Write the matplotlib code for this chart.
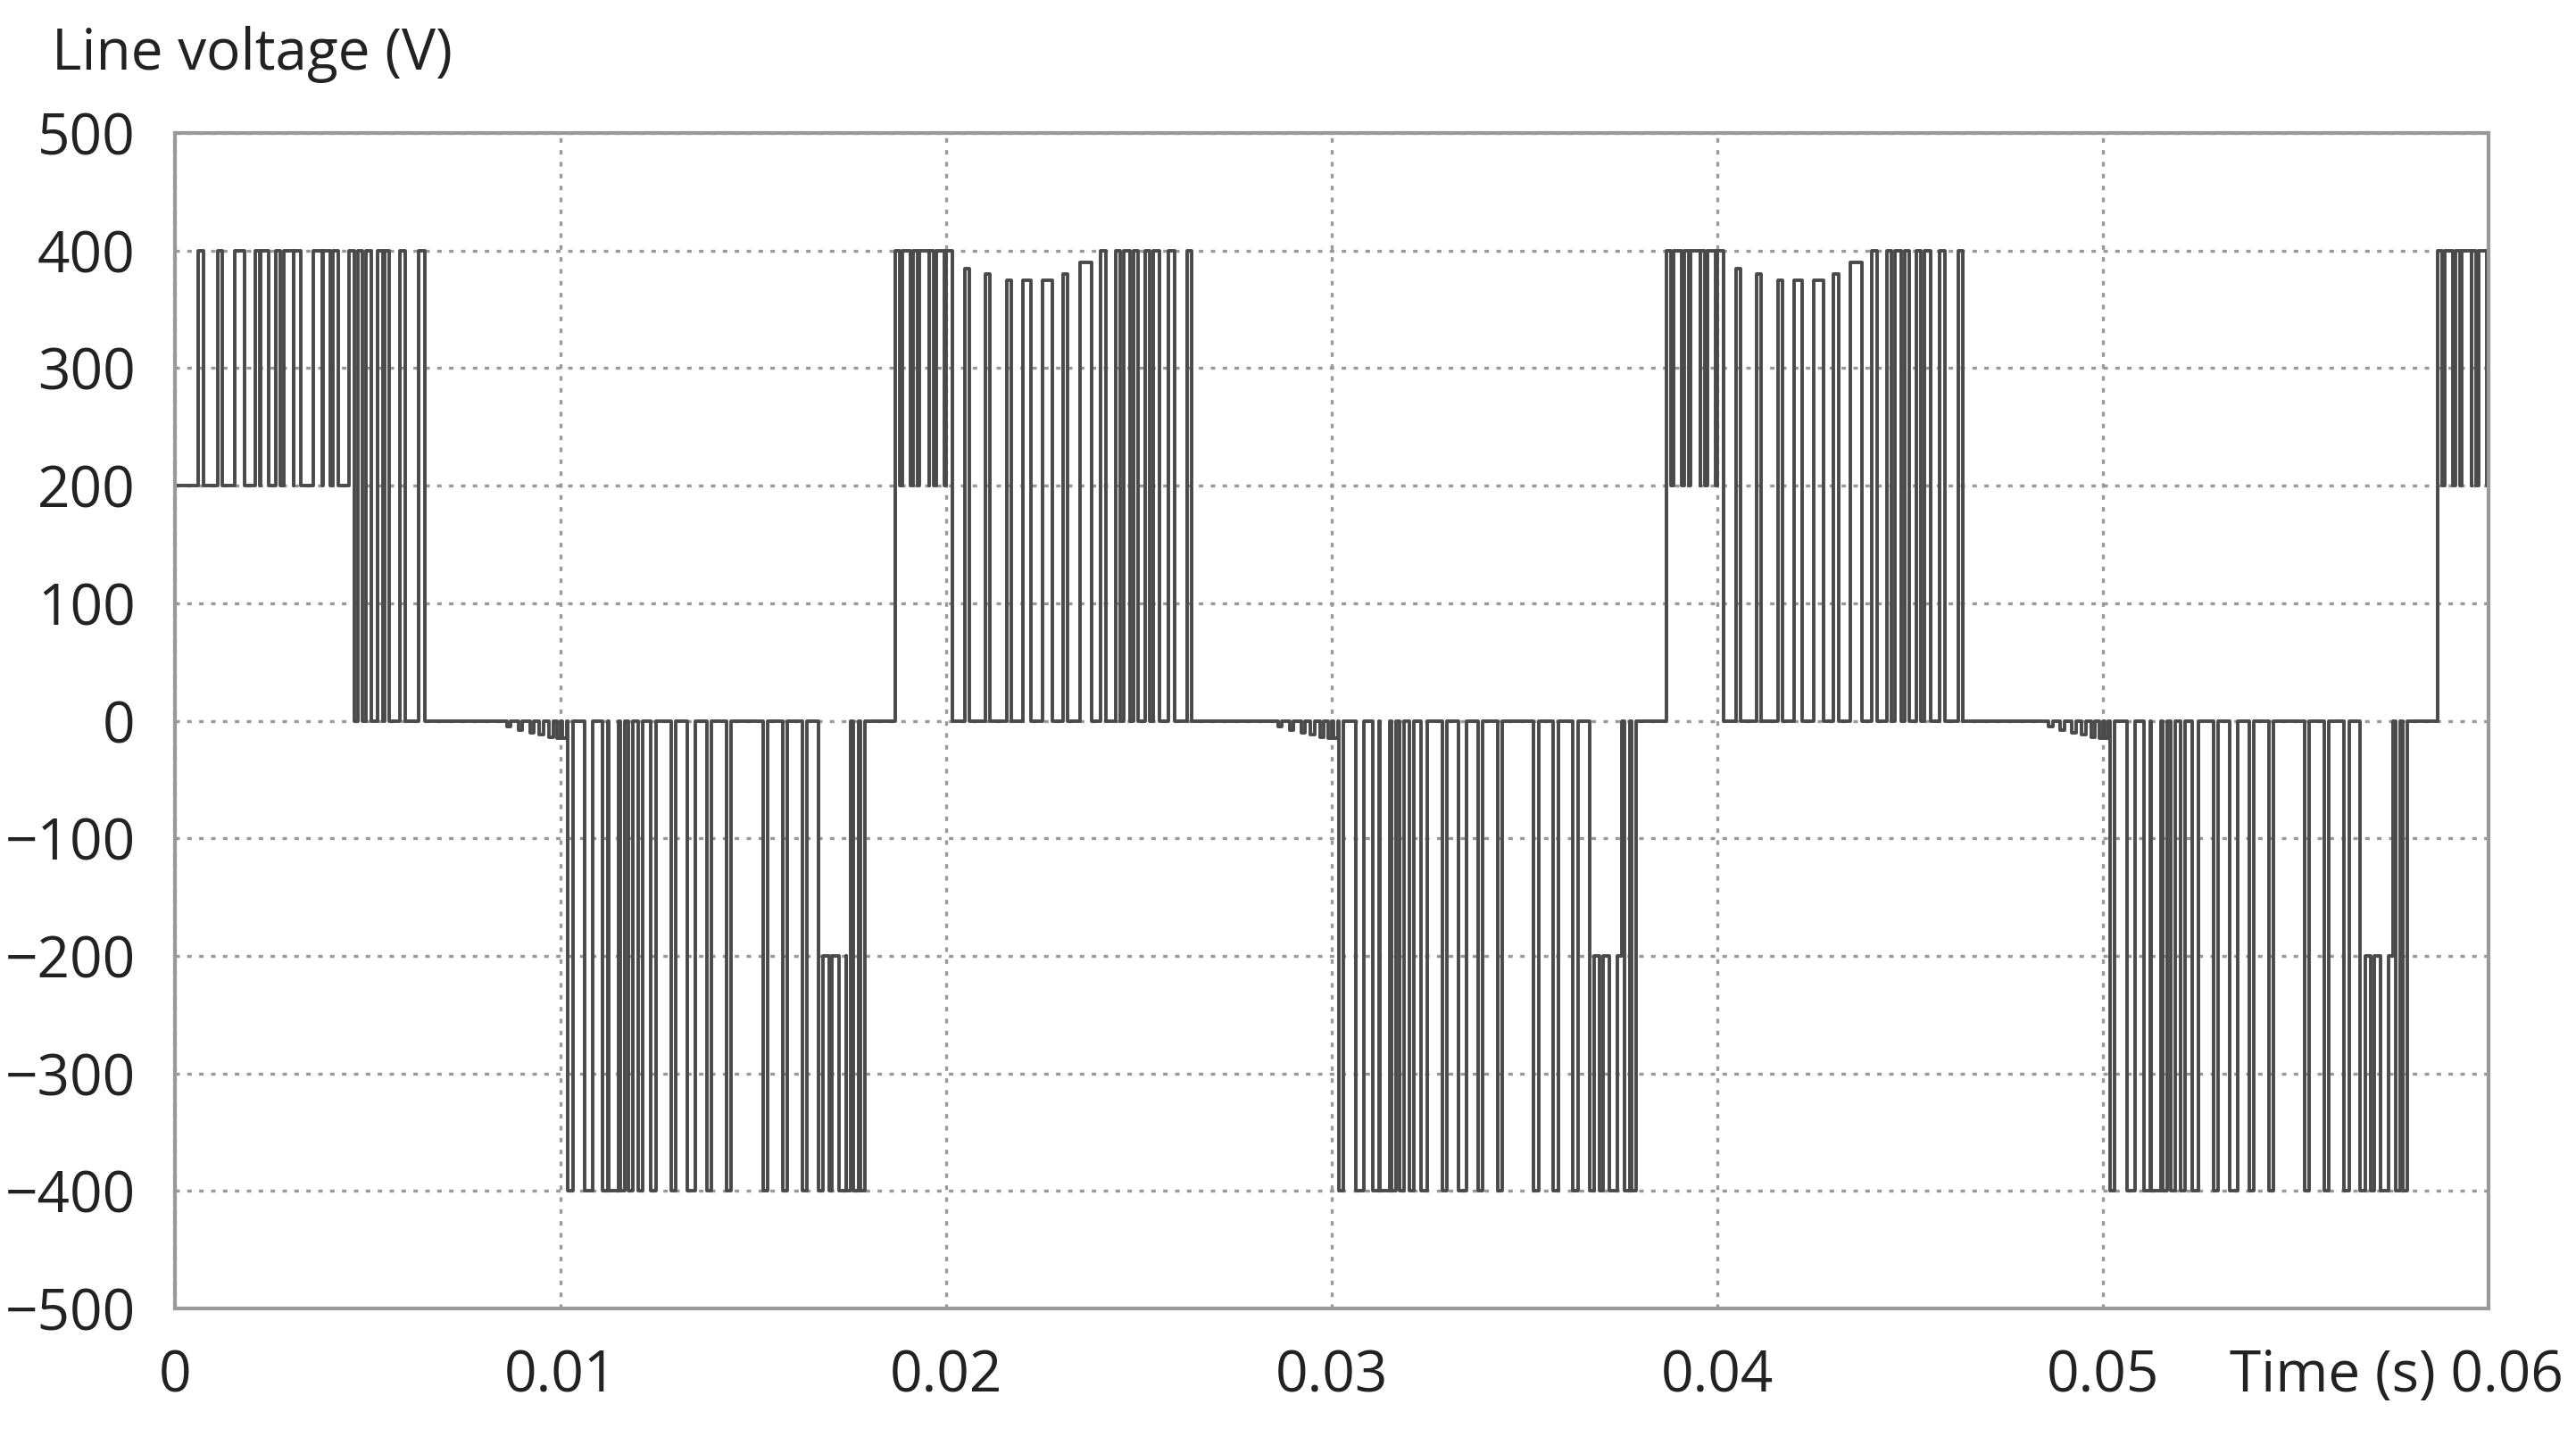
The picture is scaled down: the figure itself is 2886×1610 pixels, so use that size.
import numpy as np
import matplotlib.pyplot as plt

plt.rcParams['font.family'] = ['Open Sans', 'DejaVu Sans']

# pulse centres (ms), one list per half cycle
pos_start_ms = [0.66, 1.16, 1.67, 2.13, 2.32, 2.66, 2.94, 3.17, 3.40, 3.70, 3.93, 4.16,
                4.58, 4.79, 5.02, 5.32, 5.50, 5.90, 6.40]
pos_start_w = [0.15, 0.12, 0.25, 0.12, 0.2, 0.12, 0.25, 0.2, 0.3, 0.25, 0.2, 0.15,
               0.15, 0.12, 0.15, 0.12, 0.12, 0.15, 0.15]
pos_start_base = [200] * 12 + [0] * 7

pos_ms = [18.74, 18.97, 19.20, 19.43, 19.62, 19.85, 20.08, 20.54, 21.07, 21.63, 22.09,
          22.62, 23.08, 23.61, 24.07, 24.46, 24.69, 24.92, 25.22, 25.45, 25.84, 26.31]
pos_w = [0.12, 0.2, 0.12, 0.25, 0.12, 0.2, 0.15, 0.12, 0.12, 0.12, 0.2, 0.25, 0.12,
         0.3, 0.15, 0.12, 0.15, 0.12, 0.12, 0.15, 0.15, 0.12]
pos_base = [200] * 6 + [0] * 16
pos_peak = [400] * 7 + [385, 380, 375, 375, 375, 380, 390] + [400] * 8
pos_shifts_ms = [0, 20, 40]

neg_ms = [10.25, 10.73, 11.15, 11.38, 11.61, 11.82, 12.07, 12.40, 12.51, 12.93, 13.00,
          13.39, 13.85, 14.36, 15.30, 15.81, 16.32, 16.74, 16.92, 17.08, 17.31, 17.47,
          17.66, 17.84]
neg_w = [0.12, 0.2, 0.15, 0.25, 0.12, 0.12, 0.12, 0.15, 0.12, 0.12, 0.12, 0.2, 0.12,
         0.12, 0.12, 0.12, 0.12, 0.12, 0.25, 0.25, 0.2, 0.12, 0.12, 0.12]
neg_base = [0] * 17 + [-200] * 4 + [0] * 3
neg_peak = [-400] * 24
neg_shifts_ms = [0, 20, 40]

# small ripple near zero before each negative half
ripple_ms = [8.6, 8.9, 9.2, 9.45, 9.7, 9.9, 10.05]
ripple_v = [-5, -8, -10, -12, -14, -15, -15]


def add_pulses(ts, vs, centres, widths, bases, peaks, shift):
    for c, w, b, p in zip(centres, widths, bases, peaks):
        t0 = (c + shift - w / 2) / 1000
        t1 = (c + shift + w / 2) / 1000
        ts += [t0, t1]
        vs += [p, b]


ts, vs = [0.0], [200]
add_pulses(ts, vs, pos_start_ms, pos_start_w, pos_start_base, [400] * 19, 0)
for k in range(3):
    for r, v in zip(ripple_ms, ripple_v):
        ts += [(r + 20 * k) / 1000, (r + 20 * k + 0.1) / 1000]
        vs += [v, 0]
    add_pulses(ts, vs, neg_ms, neg_w, neg_base, neg_peak, neg_shifts_ms[k])
    add_pulses(ts, vs, pos_ms, pos_w, pos_base, pos_peak, pos_shifts_ms[k])
ts = np.array(ts)
vs = np.array(vs)
order = np.argsort(ts, kind='stable')
ts, vs = ts[order], vs[order]
ts = np.append(ts, 0.06)
vs = np.append(vs, vs[-1])

fig = plt.figure(figsize=(14.43, 8.05), dpi=200)
ax = fig.add_axes([0.068, 0.0894, 0.898, 0.818])
ax.step(ts, vs, where='post', color='#4a4a4a', lw=1.4)

ax.set_xlim(0, 0.06)
ax.set_ylim(-500, 500)
ax.set_yticks(np.arange(-500, 501, 100))
ax.set_xticks([0, 0.01, 0.02, 0.03, 0.04, 0.05, 0.06])
ax.set_xticklabels(['0', '0.01', '0.02', '0.03', '0.04', '0.05', ''])
ax.grid(True, color='#999999', linestyle=(0, (1.5, 2.5)), lw=1.2)
for s in ax.spines.values():
    s.set_color('#999999')
    s.set_linewidth(1.5)
ax.tick_params(length=0, labelsize=23, pad=16, colors='#222222')
fig.text(0.995, 0.0894 - 0.027, 'Time (s) 0.06', ha='right', va='top', fontsize=23, color='#222222')
fig.text(0.02, 0.962, 'Line voltage (V)', ha='left', va='center', fontsize=23, color='#222222')

fig.savefig('out.png')
